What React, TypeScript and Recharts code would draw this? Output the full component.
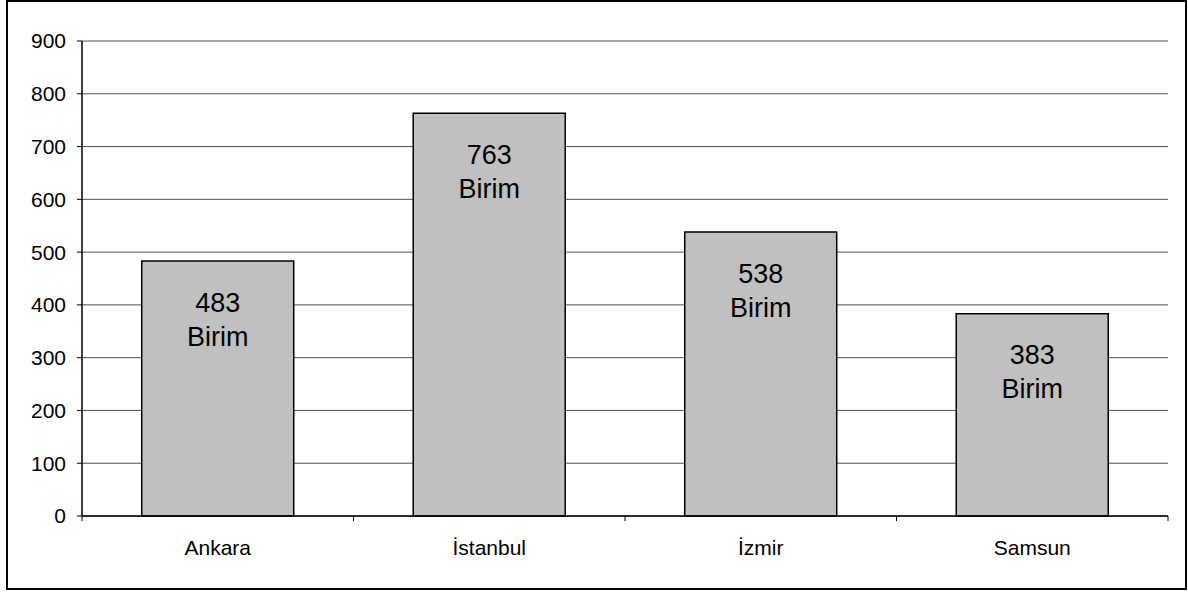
import { BarChart, Bar, XAxis, YAxis, CartesianGrid, LabelList } from 'recharts';

const cities = ['Ankara', 'İstanbul', 'İzmir', 'Samsun'];
const amounts = [483, 763, 538, 383];
const unit = 'Birim';
const yTicks = [0, 100, 200, 300, 400, 500, 600, 700, 800, 900];

const data = cities.map((name, i) => ({ name, value: amounts[i] }));

const FONT = '"Liberation Sans", Arial, sans-serif';

// Excel-style category axis: tick marks sit between categories, not under them
function CategoryTick(props: any) {
  const { x, y, payload, index, visibleTicksCount } = props;
  const half = payload && payload.offset ? payload.offset : 135.75;
  const isLast = index === visibleTicksCount - 1;
  return (
    <g>
      <line x1={x - half} x2={x - half} y1={y} y2={y + 5} stroke="#000" strokeWidth={1} />
      {isLast && <line x1={x + half} x2={x + half} y1={y} y2={y + 5} stroke="#000" strokeWidth={1} />}
      <text x={x} y={y + 39} textAnchor="middle" fill="#000" fontSize={21} fontFamily={FONT}>
        {payload.value}
      </text>
    </g>
  );
}

function BarLabel(props: any) {
  const { x, y, width, value } = props;
  const cx = Number(x) + Number(width) / 2;
  const top = Number(y);
  return (
    <g>
      <text x={cx} y={top + 41} dy="0.355em" textAnchor="middle" fill="#000" fontSize={27} fontFamily={FONT}>
        {value}
      </text>
      <text x={cx} y={top + 75} dy="0.355em" textAnchor="middle" fill="#000" fontSize={27} fontFamily={FONT}>
        {unit}
      </text>
    </g>
  );
}

export default function App() {
  return (
    <div style={{ position: 'absolute', left: 0, top: 0, width: 1188, height: 592, background: '#fff' }}>
      {/* outer chart frame */}
      <div
        style={{
          position: 'absolute',
          left: 6,
          top: 0,
          width: 1181,
          height: 590,
          border: '2px solid #000',
          boxSizing: 'border-box',
        }}
      />
      <div style={{ position: 'absolute', left: 0, top: 0 }}>
        <BarChart
          width={1188}
          height={592}
          data={data}
          margin={{ top: 41, right: 20, left: 0, bottom: 16 }}
          barCategoryGap="22%"
        >
          <CartesianGrid vertical={false} stroke="#505050" strokeWidth={1} />
          <XAxis
            dataKey="name"
            height={60}
            tickSize={0}
            tickMargin={0}
            tickLine={false}
            axisLine={{ stroke: '#000', strokeWidth: 1.5 }}
            tick={<CategoryTick />}
            interval={0}
          />
          <YAxis
            width={82}
            domain={[0, 900]}
            ticks={yTicks}
            tickSize={5}
            tickMargin={11}
            axisLine={{ stroke: '#000', strokeWidth: 1.5 }}
            tickLine={{ stroke: '#000' }}
            tick={{ fill: '#000', fontSize: 21, fontFamily: FONT }}
          />
          <YAxis
            yAxisId="right"
            orientation="right"
            width={0}
            domain={[0, 900]}
            tick={false}
            tickLine={false}
            axisLine={{ stroke: '#999', strokeWidth: 1 }}
          />
          <Bar dataKey="value" fill="#C0C0C0" stroke="#000" strokeWidth={1.5} isAnimationActive={false}>
            <LabelList dataKey="value" content={<BarLabel />} />
          </Bar>
        </BarChart>
      </div>
    </div>
  );
}
